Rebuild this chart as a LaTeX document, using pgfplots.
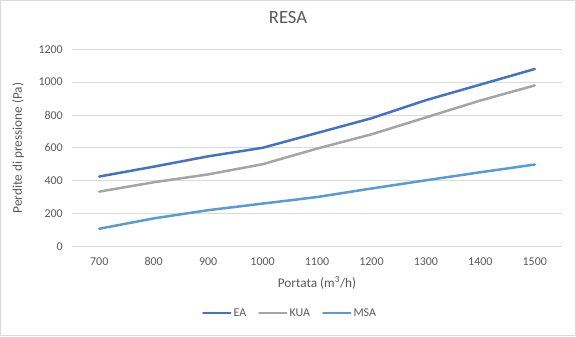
\documentclass[border=0pt]{standalone}
\usepackage{fontspec}
\setmainfont{Carlito}
\usepackage{pgfplots}
\pgfplotsset{compat=1.18}
\definecolor{ea}{HTML}{4472C4}
\definecolor{kua}{HTML}{A5A5A5}
\definecolor{msa}{HTML}{5B9BD5}
\definecolor{txt}{HTML}{595959}
\definecolor{gridc}{HTML}{D9D9D9}
\begin{document}
\begin{tikzpicture}[x=1bp,y=1bp]
\begin{axis}[
  scale only axis, width=490bp, height=197bp,
  xmin=650, xmax=1550, ymin=0, ymax=1200,
  xtick={700,800,...,1500}, ytick={0,200,...,1200},
  axis line style={draw=none}, tick style={draw=none},
  ymajorgrids, major grid style={gridc, line width=0.75bp},
  /pgf/number format/assume math mode=true,
  /pgf/number format/set thousands separator={},
  ticklabel style={font=\fontsize{12}{14}\selectfont, text=txt},
  yticklabel style={anchor=east, inner sep=0pt, xshift=-9bp},
  xticklabel style={anchor=north, inner sep=0pt, yshift=-11bp},
  legend columns=3,
  legend style={at={(0.445,-0.339)}, anchor=center, draw=none, fill=none,
    font=\fontsize{12}{14}\selectfont, text=txt, inner sep=0pt,
    /tikz/every even column/.append style={column sep=10bp}},
  legend cell align=left,
  legend image code/.code={\draw[#1, line width=2.5bp] (0bp,0bp) -- (27bp,0bp);},
  every axis plot/.append style={line width=2.5bp, line join=round, line cap=round},
]
\coordinate (bl) at (rel axis cs:0,0);
\addplot[ea, mark=none] coordinates {(700,425) (800,485) (900,548) (1000,600) (1100,690) (1200,780) (1300,890) (1400,985) (1500,1080)};
\addlegendentry{EA}
\addplot[kua, mark=none] coordinates {(700,333) (800,390) (900,438) (1000,500) (1100,595) (1200,682) (1300,785) (1400,888) (1500,980)};
\addlegendentry{KUA}
\addplot[msa, mark=none] coordinates {(700,107) (800,170) (900,220) (1000,260) (1100,300) (1200,352) (1300,402) (1400,451) (1500,498)};
\addlegendentry{MSA}
\end{axis}
\coordinate (o) at ([shift={(-72,-89.7)}]bl);
\pgfresetboundingbox
\path[use as bounding box] (o) rectangle ([shift={(576,336)}]o);
\draw[gridc, line width=0.75bp] ([shift={(0.4,0.4)}]o) rectangle ([shift={(575.6,335.6)}]o);
\node[text=txt, font=\fontsize{18.7}{22}\selectfont] at ([shift={(288,318)}]o) {RESA};
\node[text=txt, font=\fontsize{13.3}{16}\selectfont] at ([shift={(317,53)}]o) {Portata (m\textsuperscript{3}/h)};
\node[text=txt, font=\fontsize{13.3}{16}\selectfont, rotate=90] at ([shift={(18,188)}]o) {Perdite di pressione (Pa)};
\end{tikzpicture}
\end{document}
